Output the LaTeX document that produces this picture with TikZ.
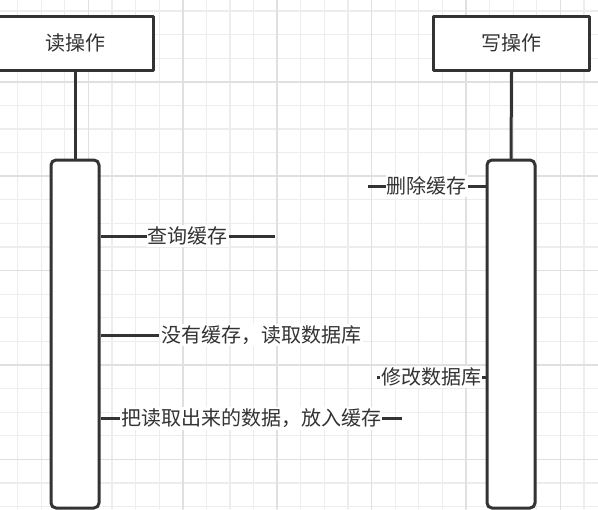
\documentclass[tikz,border=0pt]{standalone}
\usepackage{fontspec}
\newfontfamily\cjk{Noto Sans CJK SC}
\usetikzlibrary{positioning}
\definecolor{ink}{HTML}{333333}
\definecolor{gridminor}{HTML}{EDEDED}
\definecolor{gridmajor}{HTML}{E0E0E0}

\begin{document}
\begin{tikzpicture}[line cap=round,line join=round,x=0.5pt,y=-0.5pt,
		every node/.style={font=\cjk\fontsize{10}{12}\selectfont,text=ink},
		actor/.style={draw=ink,line width=1.5pt,fill=white,minimum width=78pt,minimum height=27pt,inner sep=0pt},
		bar/.style={draw=ink,line width=1.5pt,fill=white,rounded corners=2.5pt,minimum width=24pt,minimum height=174pt,inner sep=0pt},
		life/.style={draw=ink,line width=1.5pt},
		msg/.style={draw=ink,line width=1.5pt,line cap=butt},
		lbl/.style={fill=white,inner xsep=0.5pt,inner ysep=1pt}]
	\useasboundingbox (0,0) rectangle (598,509);
	\clip (0,0) rectangle (598,509);
	% background grid
	\foreach \k in {0,...,24}
		\draw [gridminor,line width=0.6pt] (17.5+23.6*\k,0) -- (17.5+23.6*\k,509);
	\foreach \k in {0,...,21}
		\draw [gridminor,line width=0.6pt] (0,10.9+23.6*\k) -- (598,10.9+23.6*\k);
	\foreach \k in {3,7,...,23}
		\draw [gridmajor,line width=0.8pt] (17.5+23.6*\k,0) -- (17.5+23.6*\k,509);
	\foreach \k in {3,7,...,19}
		\draw [gridmajor,line width=0.8pt] (0,10.9+23.6*\k) -- (598,10.9+23.6*\k);
	% lifelines
	\node[actor] (rd) at (75,43) {读操作};
	\node[actor] (wr) at (511.5,43) {写操作};
	\node[bar] (rdbar) at (75,334) {};
	\node[bar] (wrbar) at (511,334) {};
	\draw[life] (rd.south) -- (rdbar.north);
	\draw[life] (wr.south) -- (wrbar.north);
	% messages
	\coordinate (del) at (368,186);
	\coordinate (qry) at (275,236);
	\coordinate (miss) at (159,335);
	\coordinate (upd) at (377,377);
	\coordinate (put) at (402,418);
	\draw[msg] (wrbar.west |- del) -- node[lbl] {删除缓存} (del);
	\draw[msg] (rdbar.east |- qry) -- node[lbl] {查询缓存} (qry);
	\draw[msg] (rdbar.east |- miss) -- (miss) node[lbl,anchor=west] {没有缓存，读取数据库};
	\draw[msg] (wrbar.west |- upd) -- node[lbl] {修改数据库} (upd);
	\draw[msg] (rdbar.east |- put) -- node[lbl] {把读取出来的数据，放入缓存} (put);
\end{tikzpicture}
\end{document}
